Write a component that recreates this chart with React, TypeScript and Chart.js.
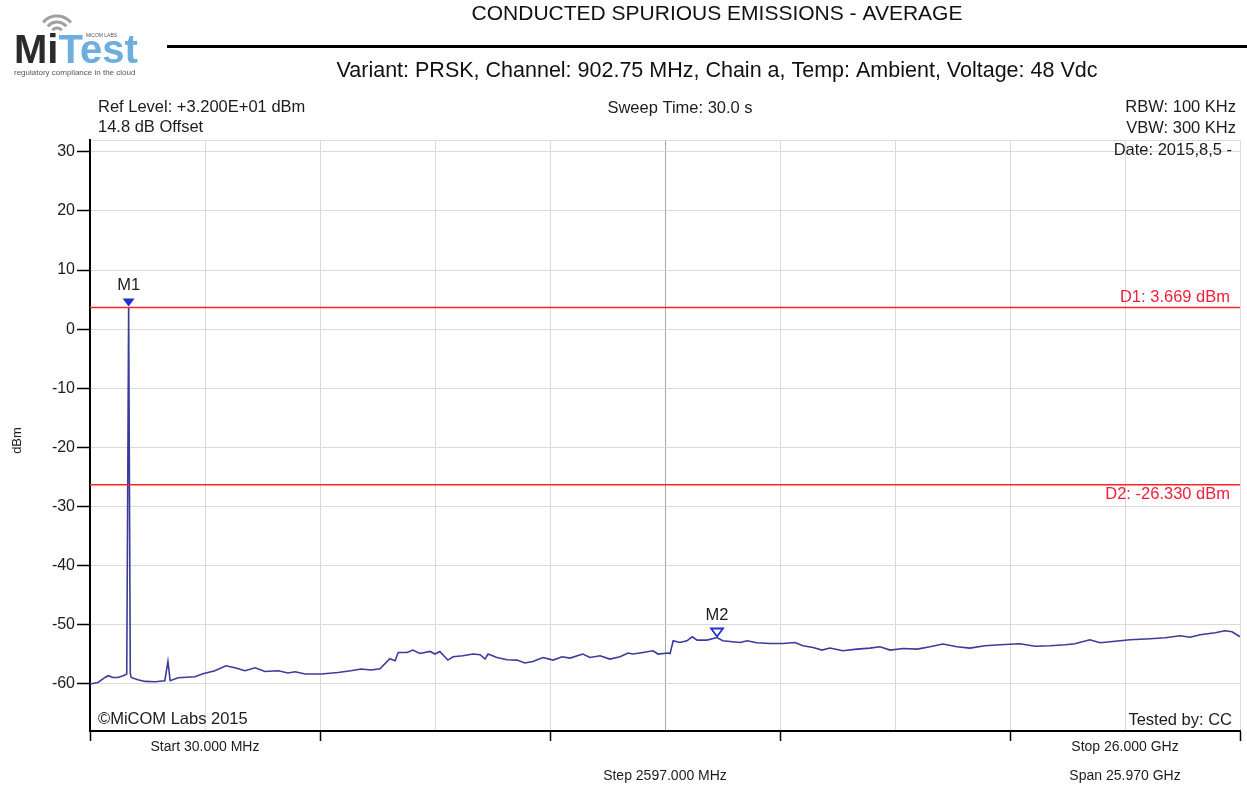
import React, { useEffect, useRef } from 'react';
import { Chart, registerables } from 'chart.js';

Chart.register(...registerables);

// ---- data ----
const FREQ_GHZ = [
  0.03, 0.21, 0.37, 0.44, 0.55, 0.66, 0.78, 0.86, 0.90275, 0.94, 0.96, 1.11, 1.27, 1.5, 1.72, 1.79, 1.84,
  2.02, 2.4, 2.58, 2.85, 3.1, 3.3, 3.53, 3.76, 3.98, 4.28, 4.5, 4.66, 4.89, 5.25, 5.63, 5.92, 6.15,
  6.38, 6.58, 6.8, 6.92, 6.99, 7.19, 7.32, 7.48, 7.71, 7.82, 7.93, 8.11, 8.23, 8.45, 8.68, 8.84, 8.95,
  9.02, 9.22, 9.45, 9.67, 9.85, 10.03, 10.26, 10.49, 10.69, 10.87, 11.16, 11.32, 11.55, 11.77, 12.0,
  12.18, 12.29, 12.52, 12.74, 12.86, 13.08, 13.13, 13.2, 13.35, 13.51, 13.63, 13.74, 13.96, 14.19,
  14.32, 14.48, 14.71, 14.87, 15.09, 15.39, 15.68, 15.95, 16.13, 16.36, 16.56, 16.74, 17.03, 17.35,
  17.64, 17.87, 18.1, 18.39, 18.71, 19.0, 19.29, 19.61, 19.9, 20.24, 20.58, 21.03, 21.37, 21.71,
  22.05, 22.27, 22.61, 22.84, 23.18, 23.52, 23.97, 24.31, 24.65, 24.87, 25.1, 25.44, 25.66, 25.82, 26.0,
];
const LEVEL_DBM = [
  -60.05, -59.78, -58.94, -58.65, -58.94, -58.94, -58.65, -58.35, 3.669, -58.3, -58.94, -59.32, -59.61, -59.66, -59.49, -56.23, -59.49,
  -58.99, -58.82, -58.31, -57.8, -56.96, -57.3, -57.8, -57.3, -57.92, -57.8, -58.19, -57.97, -58.36, -58.36, -58.09, -57.8, -57.52,
  -57.69, -57.47, -55.78, -56.11, -54.71, -54.71, -54.31, -54.88, -54.54, -54.98, -54.54, -56.0, -55.44, -55.27, -54.98, -55.1, -55.83,
  -54.98, -55.56, -55.95, -56.0, -56.5, -56.23, -55.56, -56.0, -55.44, -55.66, -54.98, -55.56, -55.27, -55.83, -55.44,
  -54.81, -54.98, -54.71, -54.43, -54.98, -54.81, -54.9, -52.74, -53.02, -52.74, -52.06, -52.62, -52.62, -52.18,
  -52.74, -52.85, -53.02, -52.74, -53.07, -53.19, -53.19, -53.02, -53.58, -53.87, -54.31, -53.97, -54.43, -54.14,
  -53.97, -53.75, -54.31, -54.04, -54.14, -53.75, -53.29, -53.75, -53.97, -53.58, -53.41, -53.24, -53.67, -53.58,
  -53.41, -53.24, -52.57, -53.07, -52.82, -52.57, -52.4, -52.23, -51.89, -52.14, -51.72, -51.39, -51.05, -51.22, -52.06,
];

const START_GHZ = 0.03;
const STOP_GHZ = 26.0;
const STEP_GHZ = 2.597;
const X_DIVISIONS = 10;
const Y_MIN = -68;
const Y_MAX = 32;
const Y_TICKS = [-60, -50, -40, -30, -20, -10, 0, 10, 20, 30];

const D1_DBM = 3.669;
const D2_DBM = -26.33;
const MARKERS = [
  { name: 'M1', freq: 0.90275, level: 3.669, filled: true },
  { name: 'M2', freq: 14.19, level: -52.18, filled: false },
];

const TITLE = 'CONDUCTED SPURIOUS EMISSIONS - AVERAGE';
const SUBTITLE = 'Variant: PRSK, Channel: 902.75 MHz, Chain a, Temp: Ambient, Voltage: 48 Vdc';
const REF_LEVEL = 'Ref Level: +3.200E+01 dBm';
const OFFSET = '14.8 dB Offset';
const SWEEP = 'Sweep Time: 30.0 s';
const RBW = 'RBW: 100 KHz';
const VBW = 'VBW: 300 KHz';
const DATE = 'Date: 2015,8,5 -';
const COPYRIGHT = '\u00A9MiCOM Labs 2015';
const TESTED = 'Tested by: CC';
const START_LABEL = 'Start 30.000 MHz';
const STOP_LABEL = 'Stop 26.000 GHz';
const STEP_LABEL = 'Step 2597.000 MHz';
const SPAN_LABEL = 'Span 25.970 GHz';
const Y_TITLE = 'dBm';

const X_GRID = Array.from({ length: X_DIVISIONS + 1 }, (_, k) => START_GHZ + k * STEP_GHZ);

const FONT = '"Liberation Sans", Arial, sans-serif';
const TEXT_COLOR = '#1c1c1c';
const TRACE_COLOR = '#3b3b9e';
const LIMIT_COLOR = '#ff2424';
const LIMIT_TEXT = '#f0203c';
const MARKER_COLOR = '#1f2fd8';

const decorPlugin = {
  id: 'decor',
  afterDraw(chart: any) {
    const ctx: CanvasRenderingContext2D = chart.ctx;
    const xs = chart.scales.x;
    const ys = chart.scales.y;
    const area = chart.chartArea;
    ctx.save();

    const text = (s: string, x: number, y: number, size: number, align: CanvasTextAlign, color = TEXT_COLOR, weight = '') => {
      ctx.font = `${weight} ${size}px ${FONT}`.trim();
      ctx.fillStyle = color;
      ctx.textAlign = align;
      ctx.textBaseline = 'middle';
      ctx.fillText(s, x, y);
    };

    // header
    text(TITLE, 717, 14, 21, 'center', '#111');
    ctx.fillStyle = '#000';
    ctx.fillRect(167, 45, 1080, 3);
    text(SUBTITLE, 717, 71, 21.5, 'center', '#111');

    // logo
    ctx.strokeStyle = '#a0a0a0';
    ctx.lineWidth = 3;
    [6, 12, 18].forEach((r) => {
      ctx.beginPath();
      ctx.arc(57, 34, r, Math.PI * 1.22, Math.PI * 1.78);
      ctx.stroke();
    });
    ctx.font = `bold 40px ${FONT}`;
    ctx.textAlign = 'left';
    ctx.textBaseline = 'alphabetic';
    ctx.fillStyle = '#2b2b2b';
    ctx.fillText('Mi', 14, 63);
    const miW = ctx.measureText('Mi').width;
    ctx.fillStyle = '#6eaede';
    ctx.fillText('Test', 14 + miW, 63);
    ctx.font = `5px ${FONT}`;
    ctx.fillStyle = '#555';
    ctx.fillText('MiCOM LABS', 86, 37);
    ctx.font = `8px ${FONT}`;
    ctx.fillStyle = '#555';
    ctx.fillText('regulatory compliance in the cloud', 14, 75);

    // annotations
    text(REF_LEVEL, 98, 107, 16.5, 'left');
    text(OFFSET, 98, 127, 16.5, 'left');
    text(SWEEP, 680, 108, 16.5, 'center');
    text(RBW, 1236, 107, 16.5, 'right');
    text(VBW, 1236, 128, 16.5, 'right');
    text(DATE, area.right - 8, area.top + 10, 16.5, 'right');
    text(COPYRIGHT, area.left + 8, area.bottom - 12, 16.5, 'left');
    text(TESTED, area.right - 8, area.bottom - 11, 16.5, 'right');

    // limit labels
    text(`D1: ${D1_DBM.toFixed(3)} dBm`, area.right - 10, ys.getPixelForValue(D1_DBM) - 10, 16.5, 'right', LIMIT_TEXT);
    text(`D2: ${D2_DBM.toFixed(3)} dBm`, area.right - 10, ys.getPixelForValue(D2_DBM) + 10, 16.5, 'right', LIMIT_TEXT);

    // markers
    MARKERS.forEach((m) => {
      const px = xs.getPixelForValue(m.freq);
      const py = ys.getPixelForValue(m.level) - 1;
      ctx.beginPath();
      ctx.moveTo(px, py);
      ctx.lineTo(px - 6, py - 8);
      ctx.lineTo(px + 6, py - 8);
      ctx.closePath();
      if (m.filled) {
        ctx.fillStyle = MARKER_COLOR;
        ctx.fill();
      } else {
        ctx.strokeStyle = MARKER_COLOR;
        ctx.lineWidth = 1.8;
        ctx.stroke();
      }
      text(m.name, px, py - 21, 16.5, 'center');
    });

    // bottom labels
    text(START_LABEL, xs.getPixelForValue(X_GRID[1]), 747, 14, 'center');
    text(STOP_LABEL, xs.getPixelForValue(X_GRID[9]), 747, 14, 'center');
    text(STEP_LABEL, xs.getPixelForValue(X_GRID[5]), 776, 14, 'center');
    text(SPAN_LABEL, xs.getPixelForValue(X_GRID[9]), 776, 14, 'center');

    // y title
    ctx.save();
    ctx.translate(17, (area.top + area.bottom) / 2 + 5);
    ctx.rotate(-Math.PI / 2);
    text(Y_TITLE, 0, 0, 13, 'center');
    ctx.restore();

    ctx.restore();
  },
};

export default function App() {
  const ref = useRef<HTMLCanvasElement>(null);
  useEffect(() => {
    document.body.style.margin = '0';
    const canvas = ref.current;
    if (!canvas) return;
    const chart = new Chart(canvas, {
      type: 'line',
      data: {
        datasets: [
          {
            label: 'D1',
            data: [{ x: START_GHZ, y: D1_DBM }, { x: STOP_GHZ, y: D1_DBM }],
            borderColor: LIMIT_COLOR,
            borderWidth: 1.5,
            pointRadius: 0,
          },
          {
            label: 'D2',
            data: [{ x: START_GHZ, y: D2_DBM }, { x: STOP_GHZ, y: D2_DBM }],
            borderColor: LIMIT_COLOR,
            borderWidth: 1.5,
            pointRadius: 0,
          },
          {
            label: 'Trace',
            data: FREQ_GHZ.map((f, i) => ({ x: f, y: LEVEL_DBM[i] })),
            borderColor: TRACE_COLOR,
            borderWidth: 1.6,
            pointRadius: 0,
            tension: 0,
          },
        ],
      },
      options: {
        responsive: false,
        animation: false,
        devicePixelRatio: 1,
        layout: { padding: { top: 140, left: 0, right: 7, bottom: 0 } },
        plugins: { legend: { display: false }, tooltip: { enabled: false } },
        scales: {
          x: {
            type: 'linear',
            min: START_GHZ,
            max: STOP_GHZ,
            afterBuildTicks: (scale: any) => {
              scale.ticks = X_GRID.map((v) => ({ value: v }));
            },
            afterFit: (scale: any) => {
              scale.height = 55;
            },
            ticks: { callback: () => '', font: { size: 1 } },
            grid: {
              color: (c: any) => (c.index === 5 ? '#a9a9a9' : '#dadada'),
              tickColor: (c: any) => (c.index % 2 === 0 ? '#000' : 'rgba(0,0,0,0)'),
              tickLength: 10,
              tickWidth: 1.5,
              lineWidth: 1,
            },
            border: { color: '#000', width: 2 },
          },
          y: {
            min: Y_MIN,
            max: Y_MAX,
            afterBuildTicks: (scale: any) => {
              scale.ticks = [...Y_TICKS, Y_MAX].map((v) => ({ value: v }));
            },
            afterFit: (scale: any) => {
              scale.width = 90;
            },
            ticks: {
              callback: (v: any) => (v === Y_MAX ? '' : String(v)),
              font: { family: FONT, size: 16 },
              color: TEXT_COLOR,
              padding: 2,
            },
            grid: {
              color: '#dadada',
              tickColor: (c: any) => (c.tick && c.tick.value === Y_MAX ? 'rgba(0,0,0,0)' : '#000'),
              tickLength: 13,
              tickWidth: 1.5,
              lineWidth: 1,
            },
            border: { color: '#000', width: 2 },
          },
        },
      },
      plugins: [decorPlugin],
    });
    return () => chart.destroy();
  }, []);
  return <canvas ref={ref} width={1247} height={786} style={{ display: 'block' }} />;
}
